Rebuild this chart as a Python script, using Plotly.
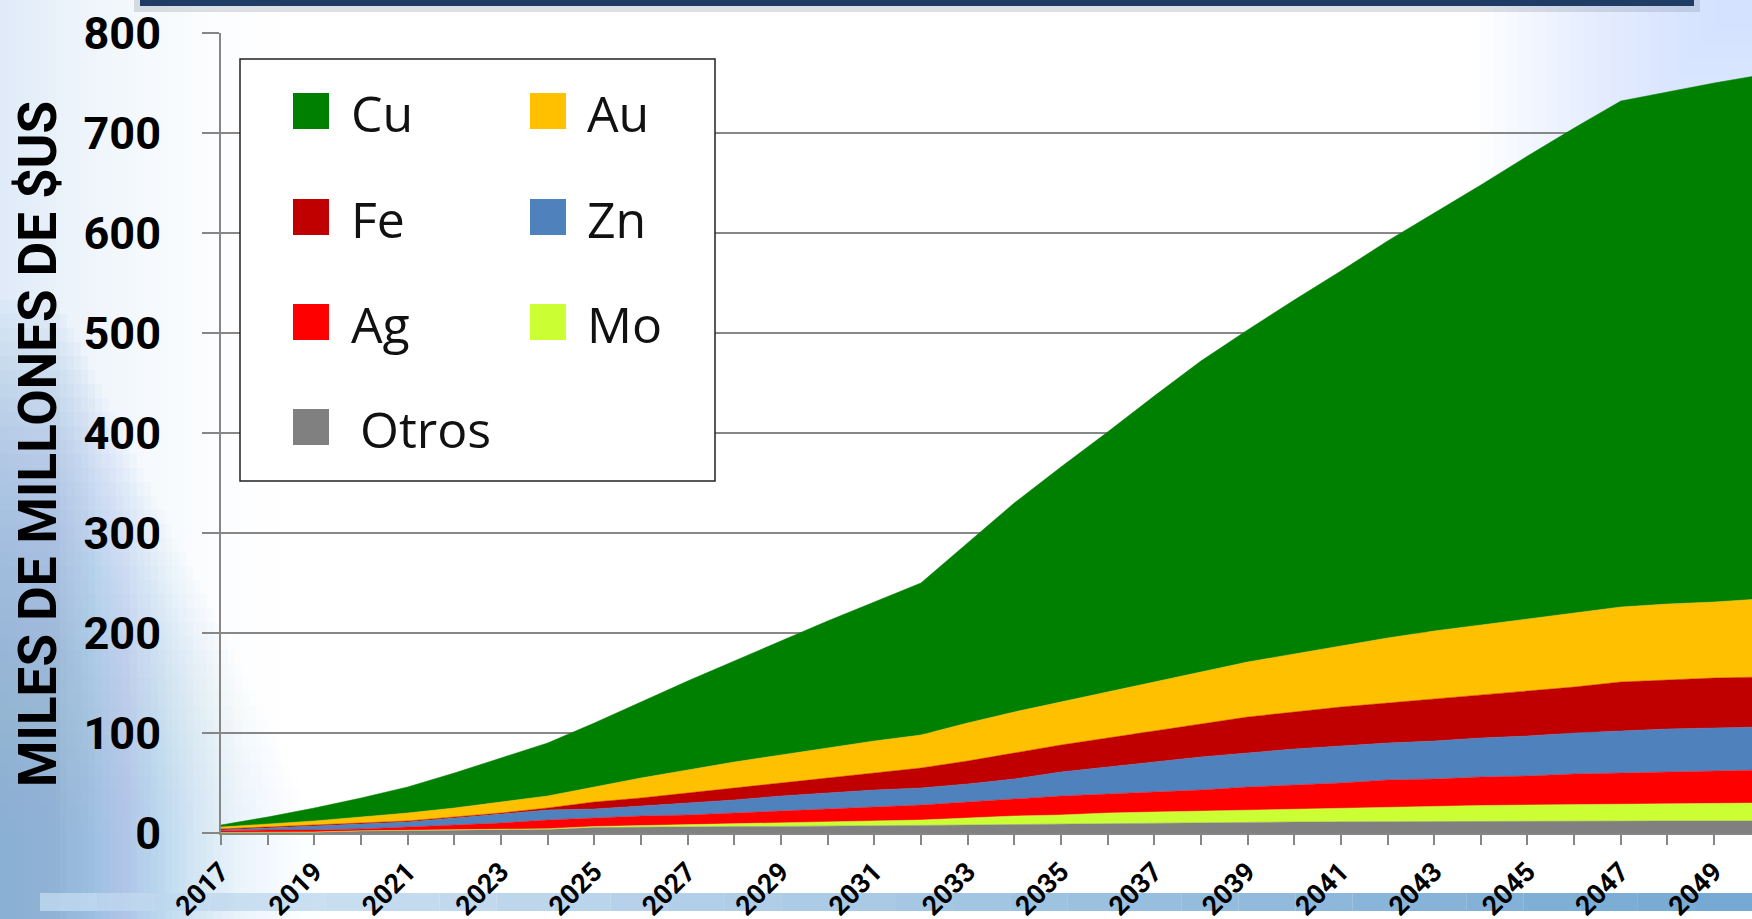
import plotly.graph_objects as go

years = list(range(2017, 2051))

# valor anual de cada metal (miles de millones de $US), apilado de abajo hacia arriba
otros = [0.3, 0.5, 0.7, 2.0, 2.3, 2.6, 3.0, 3.5, 5.5, 6.0,
         6.2, 6.4, 6.6, 6.8, 7.0, 7.5, 8.0, 8.5, 9.0, 9.5,
         10.0, 10.3, 10.6, 11.0, 11.2, 11.4, 11.5, 11.6, 11.7, 11.8,
         11.9, 12.0, 12.0, 12.0]
mo = [0.2, 0.2, 0.3, 0.2, 0.3, 0.5, 0.6, 0.8, 1.0, 1.5,
      2.3, 3.1, 3.9, 4.5, 5.2, 5.5, 7.0, 8.5, 9.0, 10.5,
      11.0, 11.7, 12.4, 13.0, 13.8, 14.6, 15.5, 15.9, 16.3, 16.7,
      17.1, 17.5, 18.0, 18.0]
ag = [1.5, 2.3, 2.0, 1.8, 3.4, 4.9, 6.4, 8.7, 8.5, 9.5,
      9.5, 10.5, 11.5, 12.7, 13.8, 15, 16, 17, 19, 19,
      20, 21, 23, 24, 25, 27, 27, 28.5, 29, 30.5,
      31, 31.5, 32, 33]
zn = [1, 2, 4, 5, 5, 7, 9, 10, 9, 10,
      12, 13, 15, 16, 17, 17, 18, 20, 24, 27,
      30, 33, 34, 36, 37, 37, 38, 39, 40, 41,
      42, 43, 43, 43]
fe = [1, 1, 1, 1, 1, 1, 1, 2, 7, 8,
      10, 12, 13, 15, 17, 20, 23, 26, 27, 29,
      31, 33, 36, 37, 39, 40, 42, 43, 45, 46,
      49, 49, 50, 50]
au = [2, 3, 4, 6, 8, 9, 11, 12, 15, 20,
      23, 26, 28, 30, 32, 33, 38, 41, 43, 46,
      49, 52, 55, 58, 61, 65, 68, 70, 72, 74,
      75, 76, 76, 78]
cu = [2, 7, 13, 19, 26, 35, 44, 53, 64, 76,
      89, 101, 114, 127, 139, 152, 180, 209, 235, 260,
      286, 311, 332, 354, 375, 397, 418, 440, 463, 485,
      506, 512, 519, 524]

names = ["Otros", "Mo", "Ag", "Zn", "Fe", "Au", "Cu"]
colors = ["#808080", "#CCFF33", "#FF0000", "#4F81BD", "#C00000", "#FFC000", "#008000"]
values = [otros, mo, ag, zn, fe, au, cu]

tick_years = list(range(2017, 2050, 2))

# legend layout (2 columns like the original)
legend_rows = [["Cu", "Au"], ["Fe", "Zn"], ["Ag", "Mo"], ["Otros"]]

W, H = 1752, 919
L, R, T, B = 221, 0, 33, 86
pw = W - L - R
ph = H - T - B


def px(xp):
    return (xp - L) / pw


def py(yp):
    return (H - B - yp) / ph


fig = go.Figure()
for name, vals, col in zip(names, values, colors):
    fig.add_trace(go.Scatter(x=years, y=vals, name=name, stackgroup="one", mode="lines",
                             line=dict(width=0.5, color=col), fillcolor=col,
                             showlegend=False))

shapes = []
# slide background: soft blue fade on the left, stronger towards the bottom
n = 40
for i in range(n):
    a = 0.30 * (1 - i / n) ** 2
    shapes.append(dict(type="rect", xref="paper", yref="paper", layer="below",
                       x0=px(i * 8), x1=px((i + 1) * 8), y0=py(H), y1=py(0),
                       fillcolor="rgba(150,190,232,%.3f)" % a, line_width=0))
for i in range(n):
    a = 0.05 * (1 - i / n)
    shapes.append(dict(type="rect", xref="paper", yref="paper", layer="below",
                       x0=px(0), x1=px(60 + i * 7), y0=py(H), y1=py(300 + i * 14),
                       fillcolor="rgba(120,165,220,%.3f)" % a, line_width=0))
# top-right corner tint
for i in range(20):
    shapes.append(dict(type="rect", xref="paper", yref="paper", layer="below",
                       x0=px(1480 + i * 13), x1=px(W), y0=py(300 - i * 15), y1=py(0),
                       fillcolor="rgba(190,222,248,0.05)", line_width=0))
# header bar at the top
shapes.append(dict(type="rect", xref="paper", yref="paper", layer="below",
                   x0=px(134), x1=px(1700), y0=py(12), y1=py(0),
                   fillcolor="rgba(120,130,150,0.25)", line_width=0))
shapes.append(dict(type="rect", xref="paper", yref="paper", layer="below",
                   x0=px(140), x1=px(1694), y0=py(6), y1=py(-5),
                   fillcolor="#1F3C64", line_width=0))
# bottom band
m = 30
for i in range(m):
    f = i / (m - 1)
    r = int(200 - 140 * f)
    g = int(222 - 90 * f)
    b = int(242 - 50 * f)
    shapes.append(dict(type="rect", xref="paper", yref="paper", layer="below",
                       x0=px(40 + i * (W - 40) / m), x1=px(40 + (i + 1) * (W - 40) / m),
                       y0=py(911), y1=py(893),
                       fillcolor="rgba(%d,%d,%d,0.7)" % (r, g, b), line_width=0))

# legend box
shapes.append(dict(type="rect", xref="paper", yref="paper", layer="above",
                   x0=px(240), x1=px(715), y0=py(481), y1=py(59),
                   fillcolor="white", line=dict(color="#222222", width=1.5)))

annotations = []
col_sw = [293, 530]
col_tx = [349, 585]
row_c = [111, 217, 322, 427]
for r_i, row in enumerate(legend_rows):
    for c_i, nm in enumerate(row):
        col = colors[names.index(nm)]
        yc = row_c[r_i]
        shapes.append(dict(type="rect", xref="paper", yref="paper", layer="above",
                           x0=px(col_sw[c_i]), x1=px(col_sw[c_i] + 36),
                           y0=py(yc + 18), y1=py(yc - 18),
                           fillcolor=col, line_width=0))
        tx = col_tx[c_i] + (9 if nm == "Otros" else 0)
        annotations.append(dict(xref="paper", yref="paper", x=px(tx), y=py(yc + 2),
                                text=nm, showarrow=False, xanchor="left", yanchor="middle",
                                font=dict(family="Open Sans", size=50, color="#111111")))

annotations.append(dict(xref="paper", yref="paper", x=px(38), y=py(444),
                        text="<b>MILES DE MILLONES DE $US</b>", textangle=-90,
                        showarrow=False, xanchor="center", yanchor="middle",
                        font=dict(family="Roboto", size=53, color="black")))

fig.update_layout(
    width=W, height=H, autosize=False,
    margin=dict(l=L, r=R, t=T, b=B, pad=0),
    paper_bgcolor="white", plot_bgcolor="rgba(0,0,0,0)",
    shapes=shapes, annotations=annotations,
    xaxis=dict(range=[2017, 2017 + pw / 46.66], tickvals=tick_years,
               ticktext=["<b>%d</b>" % y for y in tick_years],
               tickangle=-45, ticks="outside", ticklen=10, tickwidth=1.5,
               tickcolor="#868686", showline=True, linecolor="#868686", linewidth=2,
               showgrid=False, zeroline=False, ticklabelstandoff=0, automargin=False,
               minor=dict(dtick=1, tick0=2017, ticks="outside", ticklen=10,
                          tickwidth=1.5, tickcolor="#868686", showgrid=False),
               tickfont=dict(family="Roboto", size=27, color="black")),
    yaxis=dict(range=[0, 800], dtick=100, ticks="outside", ticklen=17, tickwidth=1.5,
               tickcolor="#868686", showline=True, linecolor="#868686", linewidth=2,
               showgrid=True, gridcolor="#878787", gridwidth=1.5, zeroline=False,
               ticklabelstandoff=32, automargin=False,
               tickfont=dict(family="Roboto", size=45, color="black", weight="bold")),
)

fig.write_html("out.html", config={"displayModeBar": False},
               post_script="document.body.style.margin='0';")
